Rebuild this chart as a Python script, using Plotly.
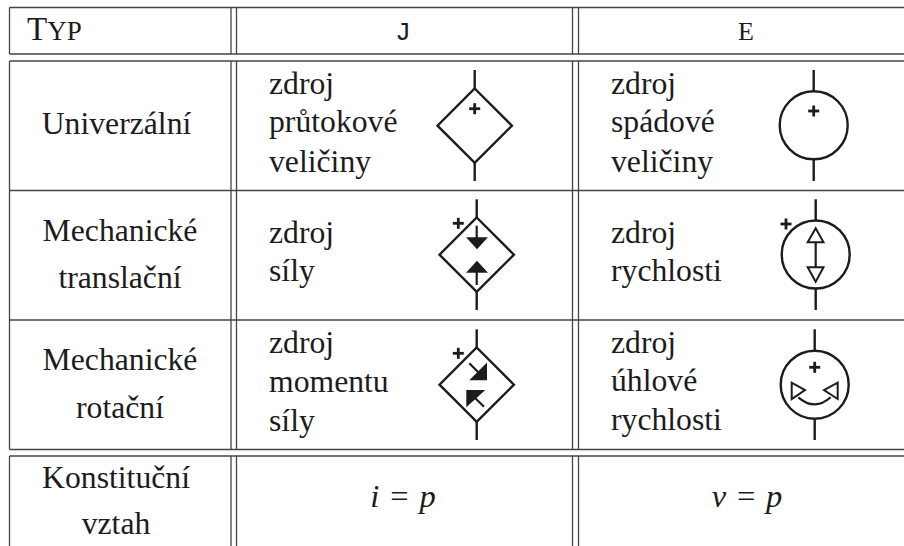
import plotly.graph_objects as go

W, H = 904, 546
INK = "#1c1c1c"
RULE = "#444444"
SERIF = "Liberation Serif"
MONO = "Liberation Mono"
FS = 31.7

# Table rules
h_rules = [7.5, 54, 61, 190.5, 320, 449.5, 456]
v_rules = [9.5, 231, 236.5, 572.5, 578.5]
v_spans = [(7.5, 54), (61, 449.5), (456, 546)]

# Text: (x, baseline y, text)
row_labels = [
    (116.5, 135, "Univerzální"),
    (120, 241.7, "Mechanické"),
    (120, 288.3, "translační"),
    (120, 371, "Mechanické"),
    (120, 418.3, "rotační"),
    (116, 488.5, "Konstituční"),
    (116, 535, "vztah"),
]
j_labels = [
    (269, 95, "zdroj"), (269, 133, "průtokové"), (269, 172.5, "veličiny"),
    (269, 243.3, "zdroj"), (269, 281.7, "síly"),
    (269, 353.3, "zdroj"), (269, 392.7, "momentu"), (269, 431.5, "síly"),
]
e_labels = [
    (611, 95, "zdroj"), (611, 133, "spádové"), (611, 172.5, "veličiny"),
    (611, 243.3, "zdroj"), (611, 281.7, "rychlosti"),
    (611, 353.3, "zdroj"), (611, 391.7, "úhlové"), (611, 430.7, "rychlosti"),
]
header_j = [(403, 40.5, "J")]
header_e = [(746, 40.5, "E")]
formulas = [(403, 508, "<i>i</i> \u200a= \u200a<i>p</i>"), (747, 508, "<i>v</i> \u200a= \u200a<i>p</i>")]
type_label = (27, 40.5, 'T<span style="font-size:27px">YP</span>')

# Symbols
diamonds = [(474.7, 125.7), (476.7, 254.7), (476.7, 384.7)]
circles = [(813.7, 125.3), (815.7, 254.5), (814.7, 384.7)]
DIAMOND_R = 37.2
CIRCLE_R = 34
plus_marks = [(474.7, 108.7), (813.7, 111), (458.3, 223.3), (786, 224), (458.3, 353.3), (814.7, 367.3)]
stems = [
    (474.7, 70, 88.7), (474.7, 162.7, 181),
    (813.7, 70, 91.3), (813.7, 159.3, 181),
    (476.7, 199.3, 217.7), (476.7, 291.7, 310),
    (815.7, 199.3, 220.5), (815.7, 288.5, 310),
    (476.7, 329.3, 347.7), (476.7, 421.7, 440),
    (814.7, 329.3, 351), (814.7, 418.5, 440),
]
# Arrow shafts: x0, y0, x1, y1
shafts = [
    (476.7, 225.7, 476.7, 240), (476.7, 270, 476.7, 285),
    (815.7, 242, 815.7, 267.5),
    (469.3, 363.3, 480, 374), (473, 396, 484, 406.7),
]
solid_heads = [
    [(468.3, 238.3), (485.7, 238.3), (477, 247.7)],
    [(477, 262.3), (468.3, 271.7), (485.7, 271.7)],
    [(486, 379.3), (486, 365), (471.7, 379.3)],
    [(467.3, 391), (482.7, 391), (467.3, 405)],
]
open_heads = [
    [(815.7, 228.3), (807.7, 242.3), (823.5, 242.3)],
    [(815.7, 281.7), (807.7, 267.3), (823.5, 267.3)],
    [(791.7, 382.7), (791.7, 399), (805, 390)],
    [(837.7, 382.7), (837.7, 399), (824, 390)],
]
arc = ((798.3, 397.3), (814.7, 411.5), (830.7, 397.3))


def text_trace(rows, size=FS, family=SERIF, pos="middle center", lift=0.27):
    return go.Scatter(
        x=[r[0] for r in rows],
        y=[r[1] - lift * size for r in rows],
        text=[r[2] for r in rows],
        mode="text",
        textposition=pos,
        textfont=dict(family=family, size=size, color=INK),
        hoverinfo="skip",
        showlegend=False,
    )


fig = go.Figure()
shapes = []


def line(x0, y0, x1, y1, color=INK, width=2.4):
    shapes.append(dict(type="line", xref="x", yref="y", x0=x0, y0=y0, x1=x1, y1=y1,
                       line=dict(color=color, width=width), layer="above"))


for y in h_rules:
    line(9.5, y, W, y, RULE, 1.3)
for x in v_rules:
    for y0, y1 in v_spans:
        line(x, y0, x, y1, RULE, 1.3)
for x, y0, y1 in stems:
    line(x, y0, x, y1, INK, 2.4)
for x0, y0, x1, y1 in shafts:
    line(x0, y0, x1, y1, INK, 2.2)
for cx, cy in diamonds:
    r = DIAMOND_R
    shapes.append(dict(type="path", xref="x", yref="y",
                       path=f"M{cx},{cy-r} L{cx+r},{cy} L{cx},{cy+r} L{cx-r},{cy} Z",
                       line=dict(color=INK, width=2.4), layer="above"))
for cx, cy in circles:
    r = CIRCLE_R
    shapes.append(dict(type="circle", xref="x", yref="y", x0=cx-r, x1=cx+r, y0=cy-r, y1=cy+r,
                       line=dict(color=INK, width=2.4), layer="above"))
for px, py in plus_marks:
    line(px-5.5, py, px+5.5, py, INK, 2.8)
    line(px, py-5.5, px, py+5.5, INK, 2.8)
for tri in solid_heads + open_heads:
    fill = INK if tri in solid_heads else "white"
    d = "M" + " L".join(f"{a},{b}" for a, b in tri) + " Z"
    shapes.append(dict(type="path", xref="x", yref="y", path=d, fillcolor=fill,
                       line=dict(color=INK, width=2), layer="above"))
(a0, b0), (a1, b1), (a2, b2) = arc
shapes.append(dict(type="path", xref="x", yref="y", path=f"M{a0},{b0} Q{a1},{b1} {a2},{b2}",
                   line=dict(color=INK, width=2.2), layer="above"))

fig.add_trace(text_trace(row_labels))
fig.add_trace(text_trace(j_labels, pos="middle right"))
fig.add_trace(text_trace(e_labels, pos="middle right"))
fig.add_trace(text_trace(header_j, size=26, family=MONO))
fig.add_trace(text_trace(header_e, size=26, family=SERIF))
fig.add_trace(text_trace(formulas, size=32.5))
fig.add_trace(text_trace([type_label], size=33, pos="middle right"))

fig.update_layout(
    width=W, height=H, margin=dict(l=0, r=0, t=0, b=0),
    paper_bgcolor="white", plot_bgcolor="white", showlegend=False, shapes=shapes,
    xaxis=dict(range=[0, W], visible=False, fixedrange=True),
    yaxis=dict(range=[H, 0], visible=False, fixedrange=True),
)
fig.write_html("out.html", config={"displayModeBar": False},
               post_script="document.body.style.margin='0';")
